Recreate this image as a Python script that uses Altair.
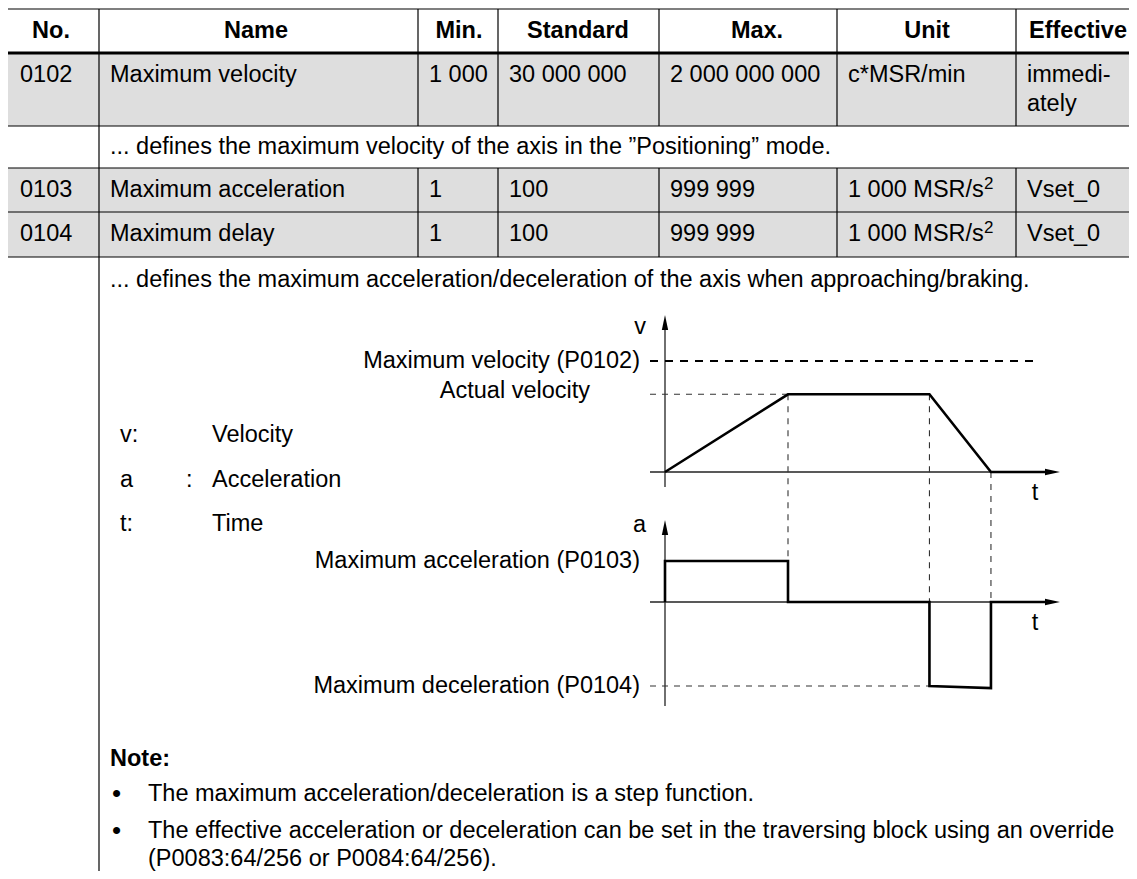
import altair as alt
import pandas as pd

# ---------------- content ----------------
HEADERS = ["No.", "Name", "Min.", "Standard", "Max.", "Unit", "Effective"]
PARAM_NO = ["0102", "0103", "0104"]
PARAM_NAME = ["Maximum velocity", "Maximum acceleration", "Maximum delay"]
PARAM_MIN = ["1 000", "1", "1"]
PARAM_STD = ["30 000 000", "100", "100"]
PARAM_MAX = ["2 000 000 000", "999 999", "999 999"]
PARAM_UNIT = ["c*MSR/min", "1 000 MSR/s", "1 000 MSR/s"]
PARAM_UNIT_SUP = ["", "2", "2"]
PARAM_EFFECTIVE = [["immedi-", "ately"], ["Vset_0"], ["Vset_0"]]
DESCRIPTIONS = [
    "... defines the maximum velocity of the axis in the \u201dPositioning\u201d mode.",
    "... defines the maximum acceleration/deceleration of the axis when approaching/braking.",
]
LEGEND_SYMBOL = ["v:", "a", "t:"]
LEGEND_COLON = ["", ":", ""]
LEGEND_MEANING = ["Velocity", "Acceleration", "Time"]
NOTE_TITLE = "Note:"
NOTE_BULLETS = [
    ["The maximum acceleration/deceleration is a step function."],
    ["The effective acceleration or deceleration can be set in the traversing block using an override",
     "(P0083:64/256 or P0084:64/256)."],
]

# diagram series (time units, normalised velocity / acceleration)
T_VEL = [0.0, 2.0, 4.3, 5.3, 6.2]
V_VEL = [0.0, 0.7, 0.7, 0.0, 0.0]
T_ACC = [0.0, 0.0, 2.0, 2.0, 4.3, 4.3, 5.3, 5.3, 6.2]
A_ACC = [0.0, 1.0, 1.0, 0.0, 0.0, -2.05, -2.1, 0.0, 0.0]
V_MAX = 1.0
V_ACTUAL = 0.7
A_DEC = -2.05
T_ACC_END = 2.0
T_DEC_START = 4.3
T_STOP = 5.3
V_LABELS = ["Maximum velocity (P0102)", "Actual velocity"]
A_LABELS = ["Maximum acceleration (P0103)", "Maximum deceleration (P0104)"]
AXIS_NAMES = ["v", "a"]
TIME_NAME = "t"

# ---------------- layout ----------------
FONT = "Liberation Sans"
FS = 23.5
COL_EDGES = [7, 99, 418, 498, 659, 837, 1016]
HEADER_CENTERS = [51, 256, 459, 578, 757, 927, 1078]
ROW_EDGES = [9, 53, 126, 168, 212, 257]
PARAM_ROW_SPANS = [(53, 126), (168, 212), (212, 257)]
PARAM_TEXT_Y = [[75, 104], [190], [234]]
DESC_Y = [147, 280]
PAGE_RIGHT, PAGE_BOTTOM = 1137, 879
PAD = 11
T0_X, T_PX = 665, 61.5
V0_Y, V_PX = 472, 111
A0_Y, A_PX = 602, 41
DASH_START_X = 650
LABEL_RIGHT = 640


def tx(t):
    return T0_X + t * T_PX


def vy(v):
    return V0_Y - v * V_PX


def ay(a):
    return A0_Y - a * A_PX


XS = alt.Scale(domain=[8, 1129], nice=False, zero=False)
YS = alt.Scale(domain=[8, 871], reverse=True, nice=False, zero=False)


def X(f="x"):
    return alt.X(f"{f}:Q", scale=XS, axis=None)


def Y(f="y"):
    return alt.Y(f"{f}:Q", scale=YS, axis=None)


def text_layer(rows, align="left", weight="normal", size=FS, color="black"):
    df = pd.DataFrame(rows, columns=["x", "y", "text"])
    return alt.Chart(df).mark_text(
        align=align, baseline="middle", font=FONT, fontSize=size,
        fontWeight=weight, color=color
    ).encode(x=X(), y=Y(), text="text:N")


def rule_layer(rows, width=1.0, color="black", dash=None):
    df = pd.DataFrame(rows, columns=["x", "x2", "y", "y2"])
    kw = dict(color=color, strokeWidth=width)
    if dash:
        kw["strokeDash"] = dash
    return alt.Chart(df).mark_rule(**kw).encode(
        x=X(), x2=alt.X2("x2:Q"), y=Y(), y2=alt.Y2("y2:Q"))


layers = []

# gray parameter rows
gray = pd.DataFrame([(COL_EDGES[0], PAGE_RIGHT + 10, a, b) for a, b in PARAM_ROW_SPANS],
                    columns=["x", "x2", "y", "y2"])
layers.append(alt.Chart(gray).mark_rect(color="#dedede").encode(
    x=X(), x2=alt.X2("x2:Q"), y=Y(), y2=alt.Y2("y2:Q")))

# table lines
hl = [(COL_EDGES[0], PAGE_RIGHT + 10, y, y) for y in ROW_EDGES if y != ROW_EDGES[1]]
layers.append(rule_layer(hl, 1.2))
layers.append(rule_layer([(COL_EDGES[0], PAGE_RIGHT + 10, ROW_EDGES[1], ROW_EDGES[1])], 3.2))
vl = [(x, x, ROW_EDGES[0], PAGE_BOTTOM + 10) for x in COL_EDGES[:2]]
for x in COL_EDGES[2:]:
    vl.append((x, x, ROW_EDGES[0], ROW_EDGES[2]))
    vl.append((x, x, ROW_EDGES[3], ROW_EDGES[5]))
layers.append(rule_layer(vl, 1.2))

# header
hy = (ROW_EDGES[0] + ROW_EDGES[1]) / 2
layers.append(text_layer([(cx, hy, h) for cx, h in zip(HEADER_CENTERS, HEADERS)],
                         align="center", weight="bold"))

# parameter cells
cells = []
sups = []
for i in range(len(PARAM_NO)):
    ys = PARAM_TEXT_Y[i]
    vals = [PARAM_NO[i], PARAM_NAME[i], PARAM_MIN[i], PARAM_STD[i], PARAM_MAX[i], PARAM_UNIT[i]]
    for c, v in enumerate(vals):
        x0 = COL_EDGES[c] + PAD + (2 if c == 0 else 0)
        cells.append((x0, ys[0], v))
    for k, line in enumerate(PARAM_EFFECTIVE[i]):
        cells.append((COL_EDGES[6] + PAD, ys[k], line))
    if PARAM_UNIT_SUP[i]:
        sups.append((COL_EDGES[5] + PAD + 136, ys[0] - 6, PARAM_UNIT_SUP[i]))
layers.append(text_layer(cells))
layers.append(text_layer(sups, size=17))

# descriptions
layers.append(text_layer([(COL_EDGES[1] + PAD, y, d) for y, d in zip(DESC_Y, DESCRIPTIONS)]))

# ---------------- diagram ----------------
# axes
axes = [
    (T0_X, T0_X, 324, 487),
    (DASH_START_X, 1050, V0_Y, V0_Y),
    (T0_X, T0_X, 529, 706),
    (DASH_START_X, 1050, A0_Y, A0_Y),
]
layers.append(rule_layer(axes, 1.3, color="#222222"))

# dashed guides
layers.append(rule_layer([(DASH_START_X, tx(6.0), vy(V_MAX), vy(V_MAX))], 2.2, dash=[8, 7]))
thin = [
    (DASH_START_X, tx(T_ACC_END), vy(V_ACTUAL), vy(V_ACTUAL)),
    (tx(T_ACC_END), tx(T_ACC_END), vy(V_ACTUAL), ay(1.0)),
    (tx(T_DEC_START), tx(T_DEC_START), vy(V_ACTUAL), ay(0)),
    (tx(T_STOP), tx(T_STOP), vy(0), ay(0)),
    (DASH_START_X, tx(T_DEC_START), ay(A_DEC), ay(A_DEC)),
]
layers.append(rule_layer(thin, 1.1, color="#333333", dash=[6, 6]))

# profiles
vel = pd.DataFrame({"x": [tx(t) for t in T_VEL], "y": [vy(v) for v in V_VEL],
                    "i": range(len(T_VEL))})
acc = pd.DataFrame({"x": [tx(t) for t in T_ACC], "y": [ay(a) for a in A_ACC],
                    "i": range(len(T_ACC))})
for df in (vel, acc):
    layers.append(alt.Chart(df).mark_line(color="black", strokeWidth=2.6, strokeJoin="miter").encode(
        x=X(), y=Y(), order=alt.Order("i:Q")))

# arrow heads
up = pd.DataFrame({"x": [T0_X, T0_X], "y": [322.5, 527.5]})
right = pd.DataFrame({"x": [1052.5, 1052.5], "y": [V0_Y, A0_Y]})
layers.append(alt.Chart(up).mark_point(shape="M0,-1L0.42,1L-0.42,1Z", filled=True, size=225,
                                       color="black", opacity=1).encode(x=X(), y=Y()))
layers.append(alt.Chart(right).mark_point(shape="M1,0L-1,-0.42L-1,0.42Z", filled=True, size=225,
                                          color="black", opacity=1).encode(x=X(), y=Y()))

# diagram labels
lab = [
    (LABEL_RIGHT, vy(V_MAX), V_LABELS[0]),
    (590, vy(V_ACTUAL) - 3, V_LABELS[1]),
    (LABEL_RIGHT, ay(1.0), A_LABELS[0]),
    (LABEL_RIGHT, ay(A_DEC), A_LABELS[1]),
    (646, 327, AXIS_NAMES[0]),
    (646, 525, AXIS_NAMES[1]),
]
layers.append(text_layer(lab, align="right"))
layers.append(text_layer([(1035, V0_Y + 21, TIME_NAME), (1035, A0_Y + 21, TIME_NAME)], align="center"))

# legend
LEG_Y = [435, 480, 524]
leg = []
for y, s, c, m in zip(LEG_Y, LEGEND_SYMBOL, LEGEND_COLON, LEGEND_MEANING):
    leg.append((120, y, s))
    if c:
        leg.append((186, y, c))
    leg.append((212, y, m))
layers.append(text_layer(leg))

# note
NOTE_Y = 759
layers.append(text_layer([(COL_EDGES[1] + PAD, NOTE_Y, NOTE_TITLE)], weight="bold"))
note_rows = []
bullets = []
BULLET_Y = [794, 831]
LINE_STEP = 28
for by, b in zip(BULLET_Y, NOTE_BULLETS):
    bullets.append((112, by, "\u2022"))
    for k, line in enumerate(b):
        note_rows.append((148, by + k * LINE_STEP, line))
layers.append(text_layer(note_rows))
layers.append(text_layer(bullets, size=26))

chart = alt.layer(*layers).properties(
    width=1121, height=863, padding=0,
    autosize=alt.AutoSizeParams(type="none"),
    background="white",
).configure_view(stroke=None)

chart.save("out.html", embed_options={"renderer": "svg", "actions": False})
